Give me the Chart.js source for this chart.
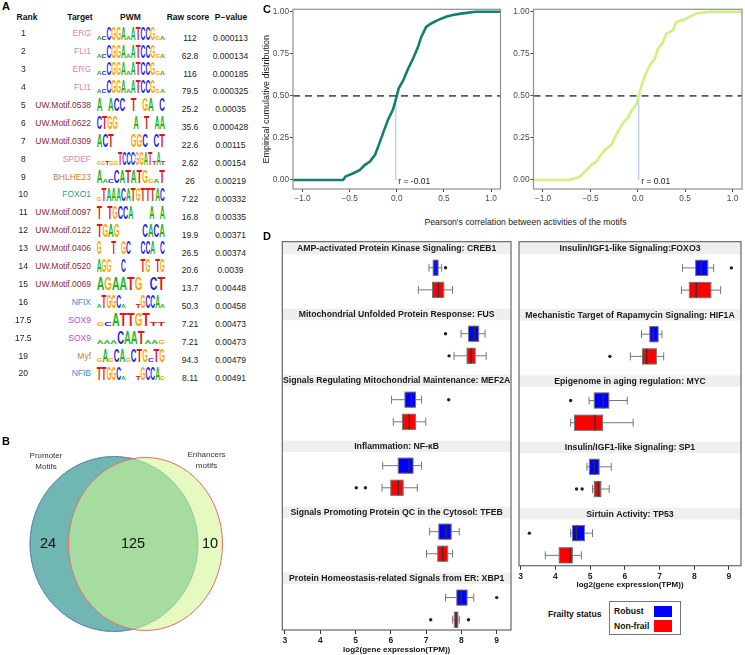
<!DOCTYPE html>
<html>
<head>
<meta charset="utf-8">
<title>Motif figure</title>
<script src="https://cdn.jsdelivr.net/npm/chart.js@4.4.1/dist/chart.umd.min.js"></script>
<style>
  html, body { margin: 0; padding: 0; background: #fff; }
  body { width: 745px; height: 655px; position: relative; overflow: hidden;
         font-family: "Liberation Sans", Arial, sans-serif; color: #222; }
  .t { position: absolute; white-space: pre; line-height: 1; }
  .box { position: absolute; }
  canvas { display: block; }
</style>
</head>
<body>
<div class="box" style="left:0;top:440px;width:250px;height:215px"><canvas id="venn"></canvas></div>
<div class="box" style="left:258px;top:0;width:245px;height:212px"><canvas id="ecdf1"></canvas></div>
<div class="box" style="left:503px;top:0;width:242px;height:212px"><canvas id="ecdf2"></canvas></div>
<div class="box" style="left:262px;top:236px;width:253px;height:419px"><canvas id="boxL"></canvas></div>
<div class="box" style="left:515px;top:236px;width:230px;height:354px"><canvas id="boxR"></canvas></div>
<script>
// A - top 20 motifs
const ranks = ["1","2","3","4","5","6","7","8","9","10","11","12","13","14","15","16","17.5","17.5","19","20"];
const targets = ["ERG","FLI1","ERG","FLI1","UW.Motif.0538","UW.Motif.0622","UW.Motif.0309","SPDEF","BHLHE23","FOXO1",
  "UW.Motif.0097","UW.Motif.0122","UW.Motif.0406","UW.Motif.0520","UW.Motif.0069","NFIX","SOX9","SOX9","Myf","NFIB"];
// upper case = strong position, lower case = weak, space = no information
const pwms = ["acCGGAaATCCGga","acCGGAaATCCGga","acCGGAaATCCGga","acCGGAaATCCGga","A ACC T GA C","CTGG   A T AA",
  "ACT   GGC CT","ggtggTCCCGGATtAt","AacCATATGgaT","gTAAACATGTTTAC","T TGCCA   A A","TGAG    CACA","G  T GC  CCA C",
  "AGG  C   TG TG","AGAATG CT","aTGGCa  tGCCAa","gcATTGTtt","aaaCAATaag","gAgCAgCTGcTG","TTGGCa  tGCCAg"];
const rawScores = [112,62.8,116,79.5,25.2,35.6,22.6,2.62,26,7.22,16.8,19.9,26.5,20.6,13.7,50.3,7.21,7.21,94.3,8.11];
const pValues = [0.000113,0.000134,0.000185,0.000325,0.00035,0.000428,0.00115,0.00154,0.00219,0.00332,
  0.00335,0.00371,0.00374,0.0039,0.00448,0.00458,0.00473,0.00473,0.00479,0.00491];

// B - venn
const vennNames = ["Promoter\nMotifs", "Enhancers\nmotifs"];
const vennCounts = [24, 125, 10];   // promoter only, both, enhancer only

// C - ecdf of the correlations
const promoterCorr = [-1.1,-0.57,-0.555,-0.547,-0.46,-0.39,-0.337,-0.284,-0.23,-0.196,-0.144,-0.091,-0.039,-0.004,
  0.021,0.067,0.119,0.172,0.225,0.26,0.312,0.365,0.435,0.523,0.593,0.698,0.839,1.1];
const promoterEcdf = [0,0,0.01,0.02,0.04,0.06,0.09,0.11,0.15,0.2,0.28,0.36,0.42,0.49,
  0.545,0.59,0.66,0.72,0.79,0.85,0.91,0.93,0.95,0.97,0.98,0.99,1,1];
const enhancerCorr = [-1.1,-0.72,-0.61,-0.54,-0.487,-0.435,-0.4,-0.347,-0.277,-0.242,-0.207,-0.154,-0.102,-0.067,-0.014,
  0.011,0.039,0.074,0.126,0.179,0.214,0.267,0.302,0.372,0.407,0.477,0.547,0.618,0.758,1.1];
const enhancerEcdf = [0,0,0.02,0.06,0.09,0.11,0.14,0.18,0.21,0.25,0.29,0.34,0.37,0.41,0.45,
  0.5,0.56,0.62,0.68,0.72,0.78,0.82,0.87,0.89,0.94,0.95,0.97,0.99,1,1];
const medianR = [-0.01, 0.01];
const corrTicks = [-1, -0.5, 0, 0.5, 1];
const ecdfTicks = [0, 0.25, 0.5, 0.75, 1];

// D - expression boxplots  [lower whisker, q1, median, q3, upper whisker]
const facetTitles = ["AMP-activated Protein Kinase Signaling: CREB1","Mitochondrial Unfolded Protein Response: FUS",
  "Signals Regulating Mitochondrial Maintenance: MEF2A","Inflammation: NF-\u03baB",
  "Signals Promoting Protein QC in the Cytosol: TFEB","Protein Homeostasis-related Signals from ER: XBP1",
  "Insulin/IGF1-like Signaling:FOXO3","Mechanistic Target of Rapamycin Signaling: HIF1A",
  "Epigenome in aging regulation: MYC","Insulin/IGF1-like Signaling: SP1","Sirtuin Activity: TP53"];
const groups = ["Robust", "Non-frail"];
const robustBox = [[7.08,7.20,7.27,7.34,7.44],[7.99,8.20,8.37,8.49,8.67],[6.02,6.40,6.59,6.70,6.87],
  [5.77,6.21,6.52,6.63,6.87],[7.10,7.36,7.57,7.71,7.94],[7.55,7.87,7.99,8.16,8.35],[7.66,8.04,8.20,8.39,8.56],
  [6.48,6.72,6.82,6.96,7.07],[4.97,5.12,5.38,5.54,6.07],[4.91,4.98,5.12,5.26,5.61],[4.44,4.49,4.61,4.84,5.07]];
const nonfrailBox = [[6.78,7.18,7.35,7.50,7.75],[7.79,8.16,8.27,8.39,8.70],[6.07,6.33,6.52,6.70,6.99],
  [5.75,6.00,6.21,6.35,6.75],[7.01,7.33,7.47,7.61,7.75],[7.75,7.80,7.85,7.90,7.94],[7.63,7.86,8.06,8.48,8.76],
  [6.16,6.51,6.63,6.91,7.12],[4.44,4.55,5.14,5.36,6.24],[5.07,5.12,5.24,5.31,5.55],[3.71,4.11,4.42,4.49,4.75]];
const robustOut = [[7.55],[7.55],[7.64],[],[],[9.0],[9.07],[],[4.44],[],[3.25]];
const nonfrailOut = [[],[7.65],[],[5.02,5.28],[],[7.13,8.2],[],[5.57],[],[4.61,4.77],[]];
const exprTicks = [3, 4, 5, 6, 7, 8, 9];

// ---- styles
const FONT = '"Liberation Sans", Arial, sans-serif';
Chart.defaults.font.family = FONT;
const baseCol = {A: "#1db41d", C: "#1e1ee6", G: "#ffa500", T: "#e81313"};
const pink = "#e67dbd", maroon = "#8c1f2f", nfiBlue = "#3a8dcf", orange = "#d47a30";
const targetCol = {ERG: pink, FLI1: pink, SPDEF: pink, BHLHE23: orange, FOXO1: "#1fa37b",
  NFIX: nfiBlue, NFIB: nfiBlue, SOX9: "#c63fdd", Myf: orange};
const groupCol = ["#0000ff", "#ff0000"];

function put(s, x, y, css, align) {
  const d = document.createElement("div");
  d.className = "t";
  d.textContent = s;
  d.style.cssText += "left:" + x + "px;top:" + y + "px;" + css;
  const tx = align === "c" ? "-50%" : align === "r" ? "-100%" : "0";
  d.style.transform = "translate(" + tx + ",-50%)";
  document.body.appendChild(d);
}

// panel letters
["A", "B", "C", "D"].forEach((l, i) => {
  const pos = [[2, 6], [2, 441], [263, 9], [263, 236]][i];
  put(l, pos[0], pos[1], "font:bold 11px " + FONT + ";color:#000", "l");
});

// ---- A table
const hdr = "font:bold 8.5px " + FONT + ";color:#111";
const cell = "font:8.5px " + FONT + ";color:#222";
put("Rank", 27, 16.7, hdr, "c");
put("Target", 92.7, 16.7, hdr, "r");
put("PWM", 130.5, 16.7, hdr, "c");
put("Raw score", 188, 16.7, hdr, "c");
put("P\u2212value", 231, 16.7, hdr, "c");

const mctx = document.createElement("canvas").getContext("2d");
mctx.font = "bold 20px " + FONT;
function drawLogo(seq, x0, x1, bottom, h) {
  const w = (x1 - x0) / seq.length;
  [...seq].forEach((ch, k) => {
    if (ch === " ") return;
    const up = ch.toUpperCase();
    const hh = ch === up ? h : h * 0.28;
    const adv = mctx.measureText(up).width;
    const s = document.createElement("span");
    s.textContent = up;
    s.style.cssText = "position:absolute;left:0;top:0;font:bold 20px/20px " + FONT + ";color:" + baseCol[up] +
      ";transform-origin:0 16.93px;transform:translate(" + (x0 + k * w) + "px," + (bottom - 16.93) + "px) scale(" +
      (w / adv) + "," + (hh / 14.32) + ")";
    document.body.appendChild(s);
  });
}

ranks.forEach((r, i) => {
  const y = 33.3 + i * 17.9;
  put(r, 23.3, y, cell, "c");
  const t = targets[i];
  put(t, 91, y, cell + ";color:" + (t.startsWith("UW") ? maroon : targetCol[t]), "r");
  put(String(rawScores[i]), 190, y + 4.4, cell, "c");
  put(String(pValues[i]), 230.5, y + 4.4, cell, "c");
  drawLogo(pwms[i], 96.7, 165, y + 6.3, 13.5);
});

// ---- B venn
const vennGeo = [{cx: 0, cy: 0, rx: 1, ry: 1}, {cx: 0.375, cy: 0, rx: 0.917, ry: 0.989}];
const vennLabelAt = [[-0.786, 0], [0.226, 0], [1.143, 0]];
const vennPlugin = {
  id: "venn",
  afterDatasetsDraw(chart) {
    const {ctx, scales: {x, y}} = chart;
    const path = g => {
      const cx = x.getPixelForValue(g.cx), cy = y.getPixelForValue(g.cy);
      ctx.beginPath();
      ctx.ellipse(cx, cy, Math.abs(x.getPixelForValue(g.cx + g.rx) - cx), Math.abs(y.getPixelForValue(g.cy + g.ry) - cy), 0, 0, Math.PI * 2);
    };
    ctx.save();
    ctx.lineWidth = 1;
    path(vennGeo[0]); ctx.fillStyle = "#70b7b2"; ctx.fill();
    ctx.strokeStyle = "#4a6fd6"; ctx.stroke();
    path(vennGeo[1]); ctx.fillStyle = "#e6f9c1"; ctx.fill();
    ctx.save(); path(vennGeo[0]); ctx.clip();
    path(vennGeo[1]); ctx.fillStyle = "#a7dca0"; ctx.fill(); ctx.restore();
    path(vennGeo[0]); ctx.strokeStyle = "rgba(120,160,170,0.55)"; ctx.stroke();
    path(vennGeo[1]); ctx.strokeStyle = "#e26a6a"; ctx.stroke();
    ctx.fillStyle = "#111";
    ctx.font = "14.5px " + FONT;
    ctx.textAlign = "center";
    ctx.textBaseline = "middle";
    vennCounts.forEach((c, i) => ctx.fillText(String(c), x.getPixelForValue(vennLabelAt[i][0]), y.getPixelForValue(vennLabelAt[i][1])));
    ctx.restore();
  }
};
new Chart(document.getElementById("venn"), {
  type: "scatter",
  data: {datasets: []},
  options: {
    responsive: true, maintainAspectRatio: false, animation: false,
    layout: {padding: 0},
    plugins: {legend: {display: false}, tooltip: {enabled: false}},
    scales: {
      x: {display: false, min: -1.357, max: 1.619},
      y: {display: false, min: -1.269, max: 1.189}
    }
  },
  plugins: [vennPlugin]
});
const setCss = "font:8px/11px " + FONT + ";color:#333;text-align:center";
put(vennNames[0], 46, 461.2, setCss, "c");
put(vennNames[1], 206.5, 459.8, setCss, "c");

// ---- C ecdf
const corrMin = -1.1, corrMax = 1.1;
const frame = (col, w) => ({
  id: "frame",
  afterDatasetsDraw(c) {
    const {ctx, chartArea: a} = c;
    ctx.save(); ctx.strokeStyle = col; ctx.lineWidth = w;
    ctx.strokeRect(a.left, a.top, a.right - a.left, a.bottom - a.top);
    ctx.restore();
  }
});
const rLabel = r => ({
  id: "rlabel",
  afterDatasetsDraw(c) {
    const {ctx, scales: {x, y}} = c;
    ctx.save();
    ctx.font = "8.5px " + FONT; ctx.fillStyle = "#222"; ctx.textBaseline = "middle";
    ctx.fillText("r = " + String(r), x.getPixelForValue(r) + 2.5, y.getPixelForValue(0) + 1.7);
    ctx.restore();
  }
});

function ecdfChart(id, xs, ys, color, r, showTitle, yW, padRight) {
  const pts = xs.map((v, i) => ({x: v, y: ys[i]}));
  const line = (data, col, w, dash, order) => ({data, borderColor: col, borderWidth: w, borderDash: dash,
    pointRadius: 0, showLine: true, fill: false, order});
  return new Chart(document.getElementById(id), {
    type: "scatter",
    data: {datasets: [
      line(pts, color, 2.6, [], 1),
      line([{x: corrMin, y: 0.5}, {x: corrMax, y: 0.5}], "#5a5a5a", 1.8, [7, 5], 0),
      line([{x: r, y: 0}, {x: r, y: 0.5}], "#b7c8f5", 1.2, [], 2)
    ]},
    options: {
      responsive: true, maintainAspectRatio: false, animation: false,
      layout: {padding: {top: 9.3, right: padRight, left: 0, bottom: 0}},
      plugins: {legend: {display: false}, tooltip: {enabled: false}},
      scales: {
        x: {
          min: corrMin, max: corrMax,
          afterBuildTicks: s => { s.ticks = corrTicks.map(v => ({value: v})); },
          afterFit: s => { s.height = 23; s.paddingLeft = 0; s.paddingRight = 0; },
          grid: {drawOnChartArea: false, tickLength: 3, color: "#444"},
          border: {display: false},
          ticks: {font: {size: 8.3}, color: "#4a4a4a", padding: 2, maxRotation: 0, autoSkip: false,
            callback: v => v.toFixed(1).replace("-", "\u2212")}
        },
        y: {
          min: -0.0535, max: 1.0143,
          afterBuildTicks: s => { s.ticks = ecdfTicks.map(v => ({value: v})); },
          afterFit: s => { s.width = yW; s.paddingTop = 0; s.paddingBottom = 0; },
          grid: {drawOnChartArea: false, tickLength: 3, color: "#444"},
          border: {display: false},
          ticks: {font: {size: 8.3}, color: "#4a4a4a", padding: 1, autoSkip: false, callback: v => v.toFixed(2)},
          title: {display: showTitle, text: "Empirical cumulative distribution", font: {size: 9}, color: "#222",
            padding: {top: 3, bottom: 2}}
        }
      }
    },
    plugins: [frame("#8f8f8f", 1.2), rLabel(r)]
  });
}
ecdfChart("ecdf1", promoterCorr, promoterEcdf, "#11806f", medianR[0], true, 35, 2.5);
ecdfChart("ecdf2", enhancerCorr, enhancerEcdf, "#cdf27e", medianR[1], false, 30.5, 3);
put("Pearson's correlation between activities of the motifs", 525.5, 222.3, "font:8.7px " + FONT + ";color:#222", "c");

// ---- D boxplots
const stripTop = 0.015, stripBottom = 0.19, groupOff = [0.395, 0.73], boxHalf = 0.115, capHalf = 0.06, gapUnits = 0.114;
function boxChart(id, from, to, xMin, xMax, axisH, padL, padR) {
  const idx = [];
  for (let k = from; k < to; k++) idx.push(k);
  const outPts = (arr, off) => idx.flatMap((k, j) => arr[k].map(v => ({x: v, y: j + off})));
  const stats = [robustBox, nonfrailBox];
  const boxes = {
    id: "boxes",
    beforeDatasetsDraw(c) {
      const {ctx, chartArea: a, scales: {x, y}} = c;
      const px = v => x.getPixelForValue(v);
      ctx.save();
      idx.forEach((k, j) => {
        const s0 = y.getPixelForValue(j + stripTop), s1 = y.getPixelForValue(j + stripBottom);
        ctx.fillStyle = "#efefef";
        ctx.fillRect(a.left, s0, a.right - a.left, s1 - s0);
        ctx.fillStyle = "#1a1a1a";
        ctx.font = "bold 8.7px " + FONT;
        ctx.textAlign = "center"; ctx.textBaseline = "middle";
        ctx.fillText(facetTitles[k], (a.left + a.right) / 2, (s0 + s1) / 2 + 0.5);
        stats.forEach((st, g) => {
          const [lo, q1, md, q3, hi] = st[k];
          const yc = y.getPixelForValue(j + groupOff[g]);
          const hb = y.getPixelForValue(j + groupOff[g] + boxHalf) - yc;
          const hc = y.getPixelForValue(j + groupOff[g] + capHalf) - yc;
          ctx.strokeStyle = "#777"; ctx.lineWidth = 1;
          ctx.beginPath();
          ctx.moveTo(px(lo), yc); ctx.lineTo(px(q1), yc);
          ctx.moveTo(px(q3), yc); ctx.lineTo(px(hi), yc);
          ctx.moveTo(px(lo), yc - hc); ctx.lineTo(px(lo), yc + hc);
          ctx.moveTo(px(hi), yc - hc); ctx.lineTo(px(hi), yc + hc);
          ctx.stroke();
          ctx.fillStyle = groupCol[g];
          ctx.fillRect(px(q1), yc - hb, px(q3) - px(q1), 2 * hb);
          ctx.strokeRect(px(q1), yc - hb, px(q3) - px(q1), 2 * hb);
          ctx.strokeStyle = "#333"; ctx.lineWidth = 1.3;
          ctx.beginPath(); ctx.moveTo(px(md), yc - hb); ctx.lineTo(px(md), yc + hb); ctx.stroke();
        });
      });
      ctx.strokeStyle = "#666"; ctx.lineWidth = 1.2;
      ctx.strokeRect(a.left, a.top, a.right - a.left, a.bottom - a.top);
      ctx.restore();
    }
  };
  const dots = (data) => ({data, pointRadius: 1.7, pointBackgroundColor: "#222", pointBorderWidth: 0, showLine: false});
  return new Chart(document.getElementById(id), {
    type: "scatter",
    data: {datasets: [dots(outPts(robustOut, groupOff[0])), dots(outPts(nonfrailOut, groupOff[1]))]},
    options: {
      responsive: true, maintainAspectRatio: false, animation: false,
      layout: {padding: {top: 5.7, left: padL, right: padR, bottom: 0}},
      plugins: {legend: {display: false}, tooltip: {enabled: false}},
      scales: {
        x: {
          min: xMin, max: xMax,
          afterBuildTicks: s => { s.ticks = exprTicks.map(v => ({value: v})); },
          afterFit: s => { s.height = axisH; s.paddingLeft = 0; s.paddingRight = 0; },
          grid: {drawOnChartArea: false, tickLength: 4, color: "#333"},
          border: {display: false},
          ticks: {font: {size: 8.5, weight: "bold"}, color: "#222", padding: 2, maxRotation: 0, autoSkip: false},
          title: {display: true, text: "log2(gene expression(TPM))", font: {size: 8, weight: "bold"}, color: "#111",
            padding: {top: 0, bottom: 0}}
        },
        y: {display: false, reverse: true, min: 0, max: idx.length - gapUnits}
      }
    },
    plugins: [boxes]
  });
}
boxChart("boxL", 0, 6, 2.925, 9.405, 25, 20.3, 2.3);
boxChart("boxR", 6, 11, 2.952, 9.347, 24.3, 2.3, 1);

// legend
put("Frailty status", 548, 614.4, "font:bold 8.6px " + FONT + ";color:#111", "l");
const lg = document.createElement("div");
lg.style.cssText = "position:absolute;left:609px;top:601px;width:70px;height:32px;border:1px solid #777";
document.body.appendChild(lg);
groups.forEach((g, i) => {
  put(g, 614, 611.3 + i * 14.7, "font:bold 8.6px " + FONT + ";color:#111", "l");
  const sw = document.createElement("div");
  sw.style.cssText = "position:absolute;left:654px;top:" + (605.7 + i * 14.4) + "px;width:18px;height:11.5px;background:" + groupCol[i];
  document.body.appendChild(sw);
});
</script>
</body>
</html>
